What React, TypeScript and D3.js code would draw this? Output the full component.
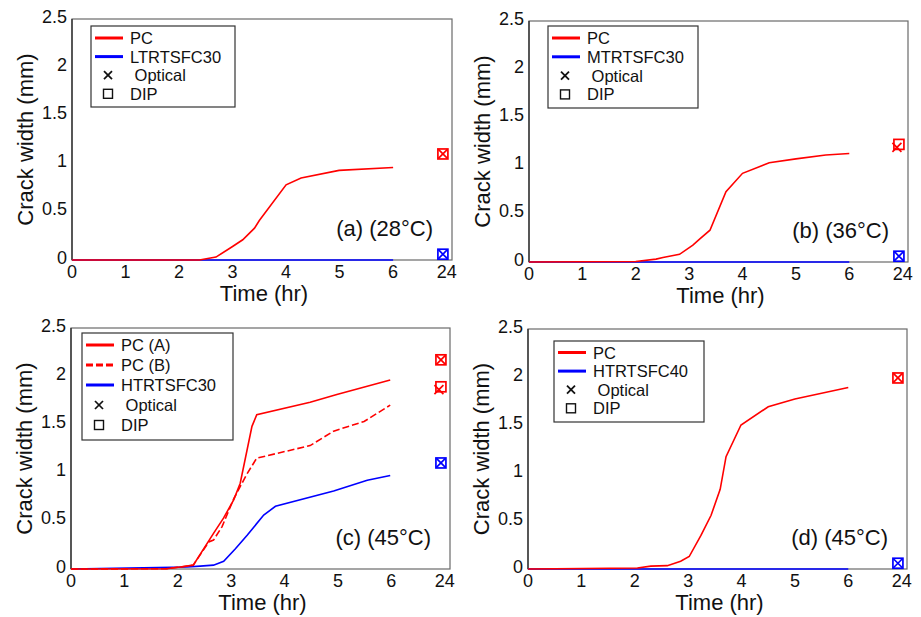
import React from 'react';
import * as d3 from 'd3';

type Pt = [number, number];

// ---------- axis ticks ----------
const xTickValues = [0, 1, 2, 3, 4, 5, 6, 7];
const xTickLabels = ['0', '1', '2', '3', '4', '5', '6', '24'];
const yTickValues = [0, 0.5, 1, 1.5, 2, 2.5];
const yTickLabels = ['0', '0.5', '1', '1.5', '2', '2.5'];
// the 24-hour readings sit just left of the "24" tick on the compressed axis
const reading24Pos = 6.93;

// ---------- (a) 28°C ----------
const pcA: Pt[] = [[0, 0], [2.38, 0], [2.69, 0.03], [3.0, 0.14], [3.19, 0.21], [3.41, 0.33], [3.5, 0.41], [4.0, 0.78], [4.28, 0.85], [4.99, 0.93], [6.0, 0.96]];
const ltrtsfc30: Pt[] = [[0, 0], [6, 0]];
const opticalA = [1.10, 0.06];
const dipA = [1.10, 0.06];

// ---------- (b) 36°C ----------
const pcB: Pt[] = [[0, 0], [2.0, 0.005], [2.38, 0.03], [2.51, 0.046], [2.82, 0.08], [3.07, 0.175], [3.19, 0.235], [3.39, 0.33], [3.69, 0.73], [4.0, 0.92], [4.5, 1.03], [5.0, 1.07], [5.56, 1.11], [6.0, 1.125]];
const mtrtsfc30: Pt[] = [[0, 0], [6, 0]];
const opticalB = [1.19, 0.06];
const dipB = [1.22, 0.06];

// ---------- (c) 45°C ----------
const pcC_A: Pt[] = [[0, 0], [1.79, 0.003], [2.04, 0.02], [2.29, 0.04], [2.67, 0.37], [2.86, 0.53], [3.05, 0.72], [3.17, 0.89], [3.39, 1.48], [3.48, 1.60], [4.48, 1.73], [4.98, 1.81], [5.98, 1.96]];
const pcC_B: Pt[] = [[0, 0], [1.79, 0.003], [2.04, 0.02], [2.29, 0.04], [2.58, 0.28], [2.67, 0.30], [2.83, 0.44], [3.05, 0.73], [3.30, 0.99], [3.48, 1.15], [4.48, 1.28], [4.92, 1.43], [5.49, 1.53], [5.98, 1.70]];
const htrtsfc30: Pt[] = [[0, 0], [2.17, 0.02], [2.42, 0.03], [2.67, 0.04], [2.86, 0.08], [3.08, 0.21], [3.30, 0.35], [3.61, 0.56], [3.83, 0.65], [4.92, 0.81], [5.55, 0.92], [5.98, 0.97]];
const opticalC = [2.17, 1.86, 1.10];
const dipC = [2.17, 1.89, 1.10];

// ---------- (d) 45°C ----------
const pcD: Pt[] = [[0, 0], [2.05, 0.01], [2.30, 0.03], [2.61, 0.035], [2.86, 0.08], [3.02, 0.13], [3.24, 0.35], [3.43, 0.56], [3.60, 0.83], [3.71, 1.17], [3.99, 1.50], [4.50, 1.69], [5.00, 1.77], [5.50, 1.83], [6.0, 1.89]];
const htrtsfc40: Pt[] = [[0, 0], [6, 0]];
const opticalD = [1.99, 0.06];
const dipD = [1.99, 0.06];

const RED = '#ff0000';
const BLUE = '#0000ff';
const FONT = '"Liberation Sans", Arial, Helvetica, sans-serif';
const LEGEND_FONT = 16.5;

interface SeriesDef { data: Pt[]; color: string; dash?: string; }
interface LegendRow { kind: 'line' | 'x' | 'sq'; text: string; color?: string; dash?: string; }
interface PanelDef {
  left: number; top: number; right: number; bottom: number;
  series: SeriesDef[];
  optical: number[]; dip: number[]; readingColors: string[];
  legend: { dx: number; dy: number; w: number; h: number; first: number; step: number; rows: LegendRow[] };
  label: string;
}

const panels: PanelDef[] = [
  {
    left: 72, top: 19, right: 452, bottom: 260,
    series: [{ data: ltrtsfc30, color: BLUE }, { data: pcA, color: RED }],
    optical: opticalA, dip: dipA, readingColors: [RED, BLUE],
    legend: { dx: 19, dy: 7, w: 144, h: 81, first: 12, step: 18.6, rows: [
      { kind: 'line', text: 'PC', color: RED },
      { kind: 'line', text: 'LTRTSFC30', color: BLUE },
      { kind: 'x', text: ' Optical' },
      { kind: 'sq', text: 'DIP' },
    ] },
    label: '(a) (28°C)',
  },
  {
    left: 529, top: 21, right: 908, bottom: 262,
    series: [{ data: mtrtsfc30, color: BLUE }, { data: pcB, color: RED }],
    optical: opticalB, dip: dipB, readingColors: [RED, BLUE],
    legend: { dx: 19, dy: 5, w: 150, h: 82, first: 12, step: 18.8, rows: [
      { kind: 'line', text: 'PC', color: RED },
      { kind: 'line', text: 'MTRTSFC30', color: BLUE },
      { kind: 'x', text: ' Optical' },
      { kind: 'sq', text: 'DIP' },
    ] },
    label: '(b) (36°C)',
  },
  {
    left: 71, top: 328, right: 450, bottom: 569,
    series: [{ data: htrtsfc30, color: BLUE }, { data: pcC_B, color: RED, dash: '7,3' }, { data: pcC_A, color: RED }],
    optical: opticalC, dip: dipC, readingColors: [RED, RED, BLUE],
    legend: { dx: 11, dy: 5, w: 151, h: 107, first: 12, step: 20, rows: [
      { kind: 'line', text: 'PC (A)', color: RED },
      { kind: 'line', text: 'PC (B)', color: RED, dash: '7,3' },
      { kind: 'line', text: 'HTRTSFC30', color: BLUE },
      { kind: 'x', text: ' Optical' },
      { kind: 'sq', text: 'DIP' },
    ] },
    label: '(c) (45°C)',
  },
  {
    left: 528, top: 329, right: 907, bottom: 569,
    series: [{ data: htrtsfc40, color: BLUE }, { data: pcD, color: RED }],
    optical: opticalD, dip: dipD, readingColors: [RED, BLUE],
    legend: { dx: 26, dy: 12, w: 150, h: 81, first: 11.5, step: 18.6, rows: [
      { kind: 'line', text: 'PC', color: RED },
      { kind: 'line', text: 'HTRTSFC40', color: BLUE },
      { kind: 'x', text: ' Optical' },
      { kind: 'sq', text: 'DIP' },
    ] },
    label: '(d) (45°C)',
  },
];

function XMark({ cx, cy, r, color, w }: { cx: number; cy: number; r: number; color: string; w: number }) {
  return (
    <g stroke={color} strokeWidth={w}>
      <line x1={cx - r} y1={cy - r} x2={cx + r} y2={cy + r} />
      <line x1={cx - r} y1={cy + r} x2={cx + r} y2={cy - r} />
    </g>
  );
}

function Panel({ p }: { p: PanelDef }) {
  const x = d3.scaleLinear().domain([0, 7.1]).range([p.left, p.right]);
  const y = d3.scaleLinear().domain([0, 2.5]).range([p.bottom, p.top]);
  const line = d3.line<Pt>().x(d => x(d[0])).y(d => y(d[1]));
  const lg = p.legend;
  const bx = p.left + lg.dx;
  const by = p.top + lg.dy;
  return (
    <g>
      <rect x={p.left} y={p.top} width={p.right - p.left} height={p.bottom - p.top} fill="white" stroke="#6a6a6a" strokeWidth={1.2} />
      <line x1={p.left} y1={p.top} x2={p.left} y2={p.bottom} stroke="#222" strokeWidth={1.2} />
      {yTickValues.map((v, i) => (
        <text key={'y' + i} x={p.left - 5} y={y(v) + 3.5} textAnchor="end" fontSize={18} fontFamily={FONT} fill="#111">{yTickLabels[i]}</text>
      ))}
      {xTickValues.map((v, i) => (
        <text key={'x' + i} x={x(v)} y={p.bottom + 18} textAnchor="middle" fontSize={18} fontFamily={FONT} fill="#111">{xTickLabels[i]}</text>
      ))}
      <text transform={`translate(${p.left - 47},${(p.top + p.bottom) / 2}) rotate(-90)`} textAnchor="middle" dy="0.36em" fontSize={22} fontFamily={FONT} fill="#111">Crack width (mm)</text>
      <text x={(p.left + p.right) / 2 + 2} y={p.bottom + 41} textAnchor="middle" fontSize={22} fontFamily={FONT} fill="#111">Time (hr)</text>
      {p.series.map((s, i) => (
        <path key={'s' + i} d={line(s.data) || ''} fill="none" stroke={s.color} strokeWidth={1.6} strokeDasharray={s.dash} />
      ))}
      {p.dip.map((v, i) => (
        <rect key={'d' + i} x={x(reading24Pos) - 5} y={y(v) - 5} width={10} height={10} fill="none" stroke={p.readingColors[i]} strokeWidth={1.7} />
      ))}
      {p.optical.map((v, i) => (
        <XMark key={'o' + i} cx={x(reading24Pos) - (Math.abs(v - p.dip[i]) > 0.01 ? 2 : 0)} cy={y(v)} r={4.5} color={p.readingColors[i]} w={1.7} />
      ))}
      <text x={p.right - 19} y={p.bottom - 24} textAnchor="end" fontSize={22} fontFamily={FONT} fill="#111">{p.label}</text>
      <rect x={bx} y={by} width={lg.w} height={lg.h} fill="white" stroke="#333" strokeWidth={1.2} />
      {lg.rows.map((r, i) => {
        const ry = by + lg.first + i * lg.step;
        return (
          <g key={'l' + i}>
            {r.kind === 'line' && (
              <line x1={bx + 4} x2={bx + 32} y1={ry} y2={ry} stroke={r.color} strokeWidth={3} strokeDasharray={r.dash} />
            )}
            {r.kind === 'x' && <XMark cx={bx + 17} cy={ry} r={4} color="#111" w={1.7} />}
            {r.kind === 'sq' && <rect x={bx + 12.5} y={ry - 4.5} width={9} height={9} fill="none" stroke="#111" strokeWidth={1.4} />}
            <text x={bx + 39} y={ry + 6} fontSize={LEGEND_FONT} fontFamily={FONT} fill="#111" style={{ whiteSpace: 'pre' }}>{r.text}</text>
          </g>
        );
      })}
    </g>
  );
}

export default function App() {
  return (
    <svg width={921} height={617} style={{ position: 'absolute', left: 0, top: 0, background: 'white' }}>
      <rect width={921} height={617} fill="white" />
      {panels.map((p, i) => <Panel key={i} p={p} />)}
    </svg>
  );
}
